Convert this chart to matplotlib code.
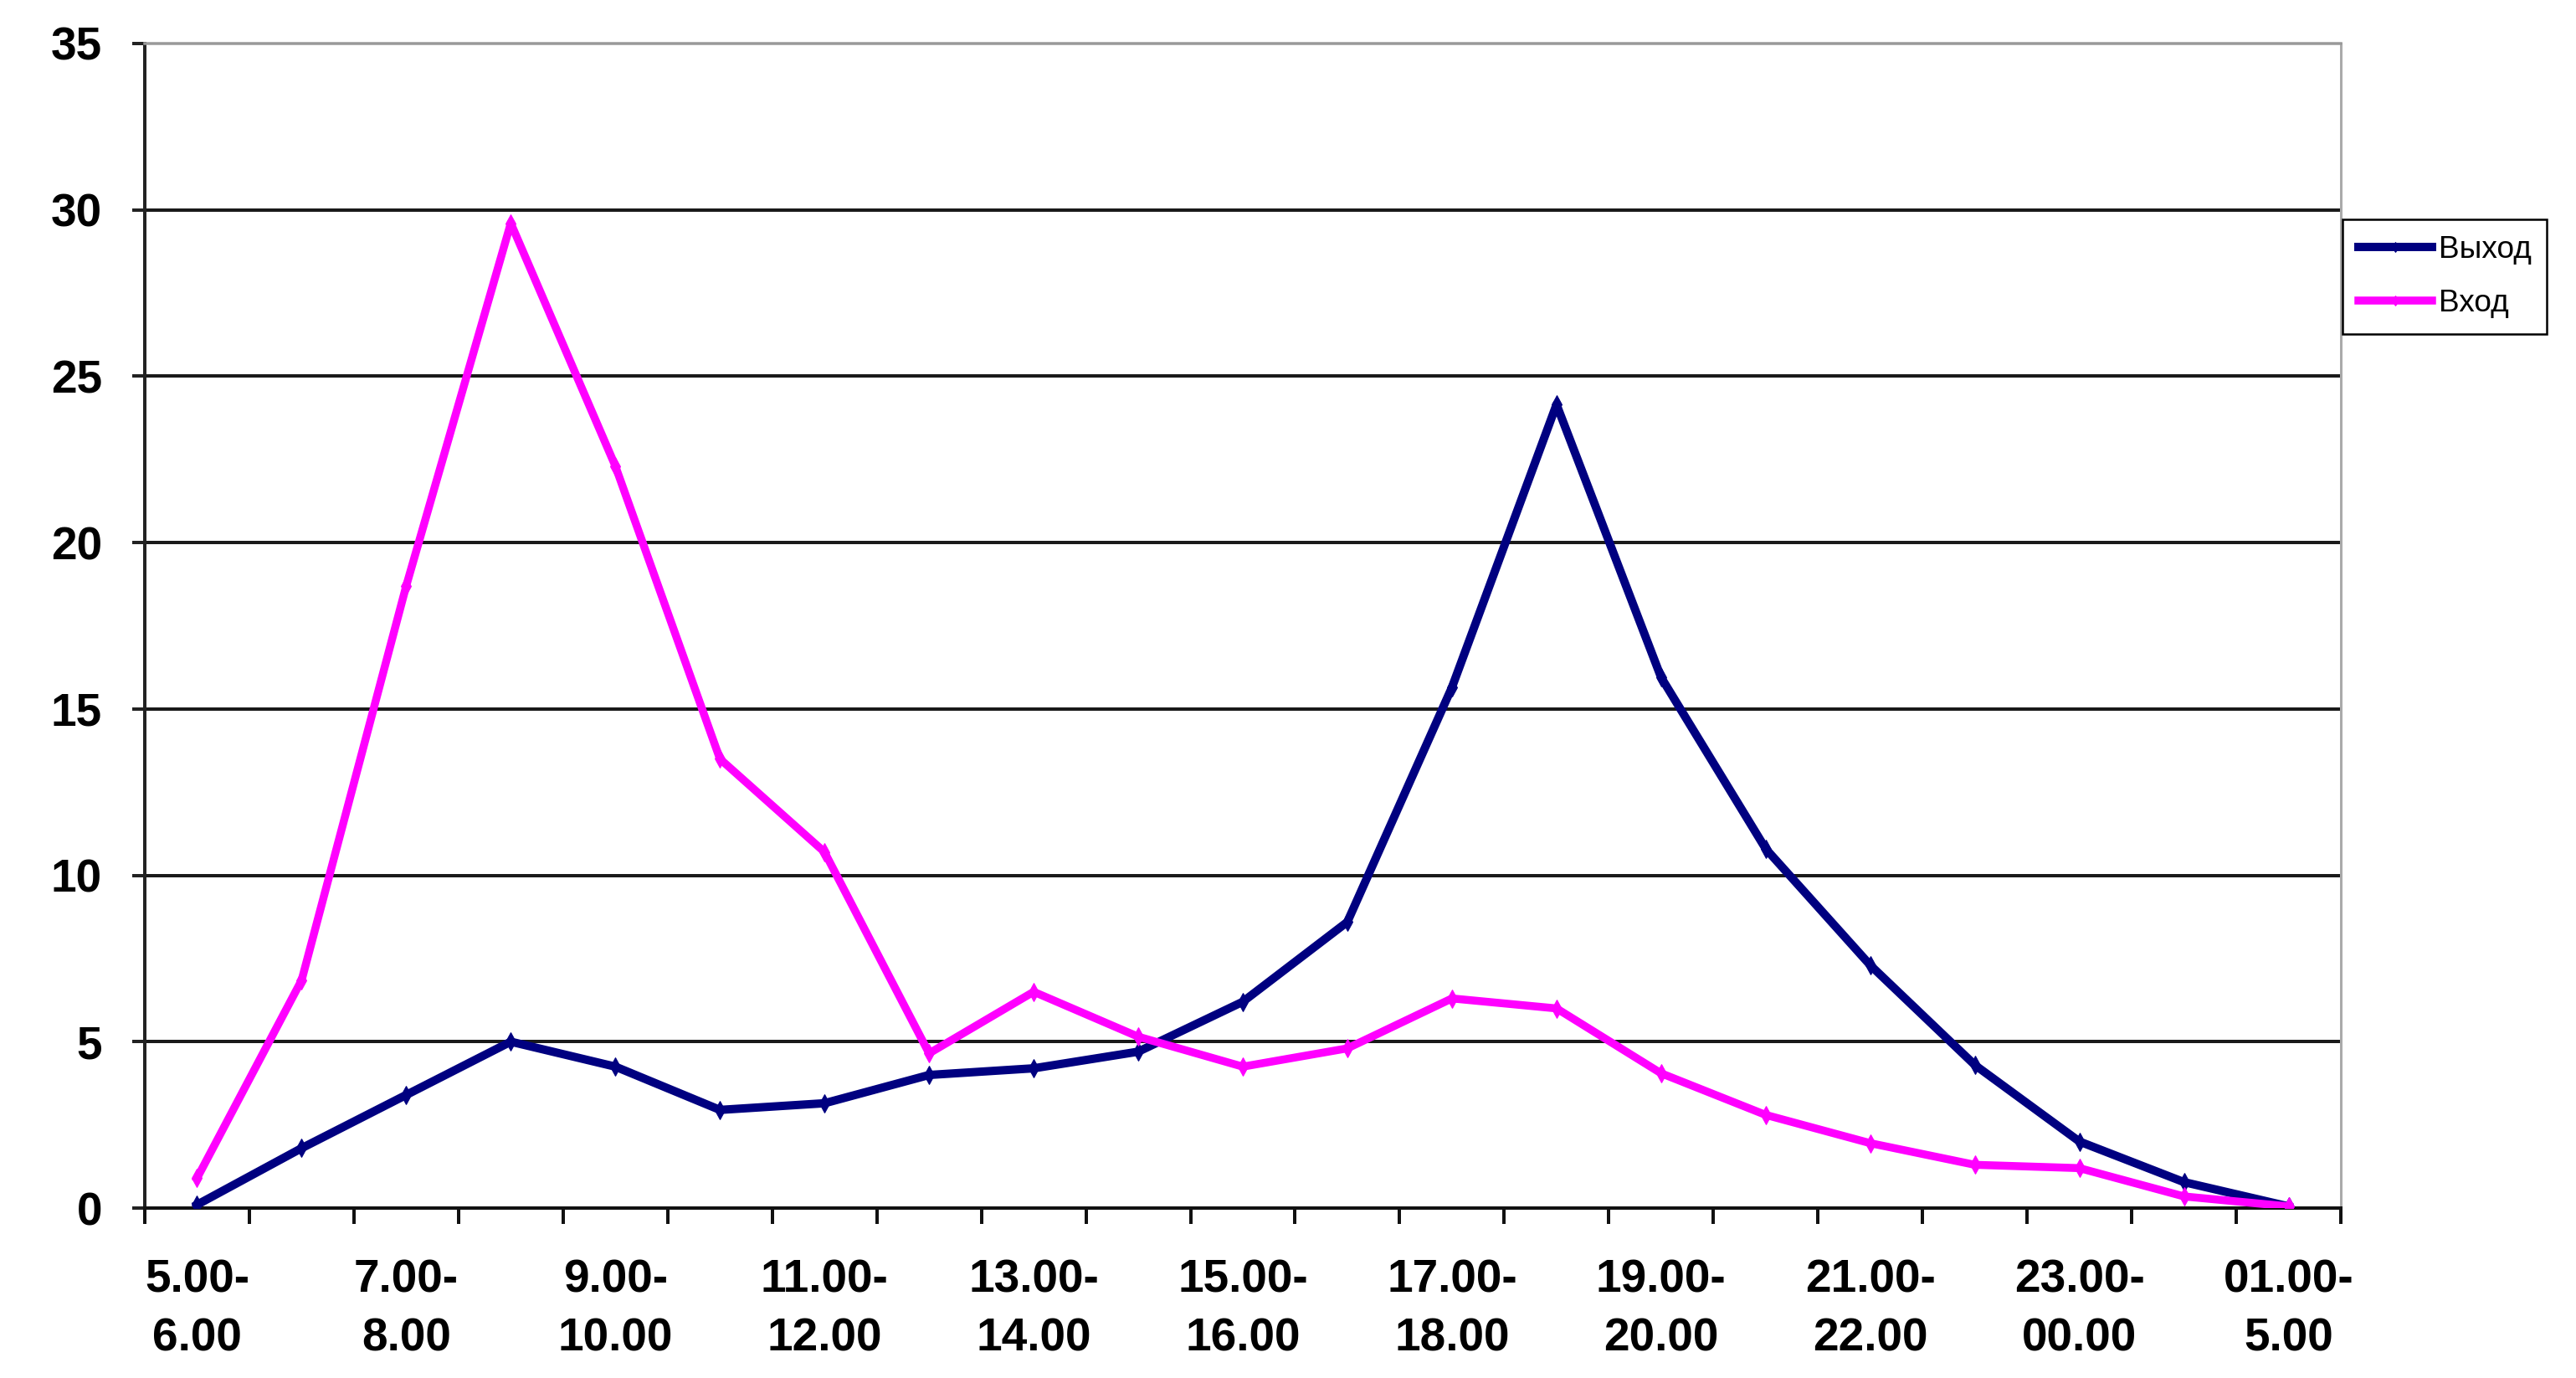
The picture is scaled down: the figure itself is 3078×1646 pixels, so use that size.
import matplotlib
matplotlib.use("Agg")
import matplotlib.pyplot as plt
import numpy as np

# categories (hour intervals)
categories = ["5.00-6.00", "6.00-7.00", "7.00-8.00", "8.00-9.00", "9.00-10.00",
              "10.00-11.00", "11.00-12.00", "12.00-13.00", "13.00-14.00",
              "14.00-15.00", "15.00-16.00", "16.00-17.00", "17.00-18.00",
              "18.00-19.00", "19.00-20.00", "20.00-21.00", "21.00-22.00",
              "22.00-23.00", "23.00-00.00", "00.00-01.00", "01.00-5.00"]

vyhod = [0.1, 1.8, 3.4, 5.0, 4.25, 2.95, 3.15, 4.0, 4.2, 4.7, 6.2,
         8.6, 15.65, 24.15, 15.95, 10.8, 7.3, 4.3, 2.0, 0.78, 0.05]
vhod = [0.9, 6.85, 18.7, 29.6, 22.3, 13.5, 10.7, 4.65, 6.5, 5.15, 4.25,
        4.8, 6.3, 6.0, 4.05, 2.8, 1.95, 1.3, 1.2, 0.35, 0.05]

y_ticks = [0, 5, 10, 15, 20, 25, 30, 35]

DPI = 72
fig = plt.figure(figsize=(3078 / DPI, 1646 / DPI), dpi=DPI)
ax = fig.add_axes([173 / 3078, 1 - 1443 / 1646, (2797 - 173) / 3078, (1443 - 52) / 1646])

x = np.arange(len(categories))

ax.plot(x, vyhod, color="#000080", lw=10, marker="d", ms=15, label="Выход", zorder=3)
ax.plot(x, vhod, color="#ff00ff", lw=9.5, marker="d", ms=15, label="Вход", zorder=4)

ax.set_xlim(-0.5, len(categories) - 0.5)
ax.set_ylim(0, 35)

# horizontal gridlines
for v in y_ticks[1:-1]:
    ax.axhline(v, color="#1a1a1a", lw=4, zorder=1)

# spines
ax.spines["left"].set_color("#222222")
ax.spines["left"].set_linewidth(4)
ax.spines["bottom"].set_color("#111111")
ax.spines["bottom"].set_linewidth(4)
ax.spines["top"].set_color("#999999")
ax.spines["top"].set_linewidth(3.5)
ax.spines["right"].set_color("#aaaaaa")
ax.spines["right"].set_linewidth(3)

tick_font = dict(family=["Liberation Sans", "DejaVu Sans"], weight="bold", size=55)

ax.set_yticks(y_ticks)
ax.set_yticklabels([str(v) for v in y_ticks], **tick_font)
ax.tick_params(axis="y", direction="out", length=15, width=4, color="#222222", pad=36)

# tick marks between categories, labels on every other category
ax.set_xticks(np.arange(-0.5, len(categories), 1.0))
ax.set_xticklabels([])
ax.tick_params(axis="x", which="major", direction="out", length=19, width=4, color="#111111")
lab_pos = x[::2]
lab_txt = [c.split("-")[0] + "-\n" + c.split("-")[1] for c in categories[::2]]
ax.set_xticks(lab_pos, minor=True)
ax.set_xticklabels(lab_txt, minor=True, linespacing=1.45, **tick_font)
ax.tick_params(axis="x", which="minor", length=0, pad=60)

leg = ax.legend(loc="upper left", bbox_to_anchor=(2799 / 3078, 1 - 262 / 1646),
                bbox_transform=fig.transFigure, borderaxespad=0,
                prop={"family": ["Liberation Sans", "DejaVu Sans"], "size": 37},
                fancybox=False, edgecolor="black", framealpha=1,
                handlelength=2.4, handletextpad=0.2, labelspacing=0.8,
                borderpad=0.5, markerscale=0.6)
leg.get_frame().set_linewidth(2.5)

fig.savefig("out.png", dpi=DPI, facecolor="white")
